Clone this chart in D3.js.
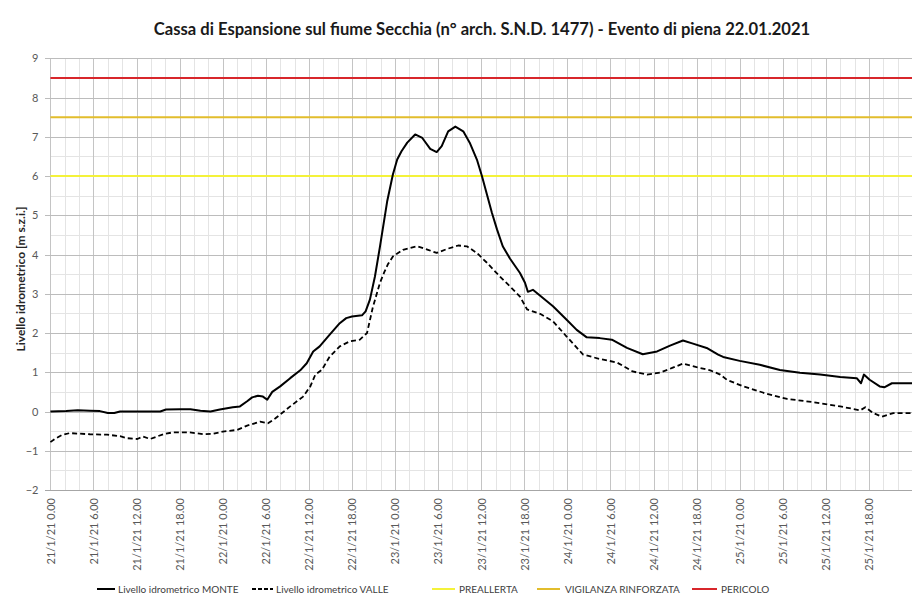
<!DOCTYPE html>
<html>
<head>
<meta charset="utf-8">
<script src="https://cdn.jsdelivr.net/npm/d3@7"></script>
<style>
  html, body { margin: 0; padding: 0; background: #fff; }
  svg { display: block; font-family: Lato, "Open Sans", sans-serif; }
</style>
</head>
<body>
<svg id="chart" width="917" height="601"></svg>
<script>
// Hydrometric levels at the Secchia flood expansion basin, 21-25 Jan 2021.
// Time is given in hours from 21/1/2021 00:00.
const monteHours = [0, 2.2, 3.8, 5.5, 6.9, 8, 8.9, 9.7, 12.5, 15.3, 16.1, 18.1, 19.5, 20.9, 22.3, 23.6, 25.4, 26.4, 27.4, 28.1, 28.9, 29.6, 30.2, 30.9, 32, 33.4, 34.8, 35.7, 36.6, 37.5, 38.9, 40.3, 41.2, 42, 43.4, 43.9, 44.5, 45.2, 45.9, 46.9, 47.7, 48.3, 48.9, 49.7, 50.8, 51.8, 52.9, 53.8, 54.5, 55.4, 56.4, 57.5, 58.4, 59.4, 60.1, 60.8, 61.5, 62.2, 63, 64, 65.4, 66.1, 66.5, 67.2, 68.6, 70, 71.9, 73.3, 74.7, 76.5, 78.2, 80.3, 82.5, 84.5, 86.3, 88.1, 89.5, 91.4, 93, 93.7, 96, 98.8, 101.6, 104.4, 107.2, 110, 112.3, 112.9, 113.3, 114.1, 115.5, 116.2, 117.2, 119.7, 120];
const monteLevel = [0.0, 0.01, 0.03, 0.02, 0.01, -0.04, -0.04, 0.0, 0.0, 0.0, 0.05, 0.06, 0.06, 0.02, 0.0, 0.05, 0.11, 0.13, 0.26, 0.36, 0.40, 0.38, 0.30, 0.50, 0.64, 0.85, 1.05, 1.23, 1.53, 1.66, 1.96, 2.25, 2.38, 2.42, 2.45, 2.55, 2.85, 3.44, 4.2, 5.35, 6.04, 6.42, 6.63, 6.85, 7.06, 6.97, 6.69, 6.61, 6.76, 7.14, 7.26, 7.14, 6.85, 6.42, 6.0, 5.53, 5.06, 4.64, 4.21, 3.9, 3.53, 3.28, 3.05, 3.1, 2.89, 2.68, 2.34, 2.08, 1.89, 1.87, 1.83, 1.62, 1.46, 1.53, 1.68, 1.81, 1.73, 1.62, 1.45, 1.39, 1.29, 1.19, 1.06, 0.99, 0.94, 0.88, 0.85, 0.72, 0.94, 0.81, 0.64, 0.62, 0.72, 0.72, 0.72];

const valleHours = [0, 0.6, 1.6, 2.7, 5.5, 7.9, 9.7, 10.7, 12.1, 12.9, 13.9, 15.7, 17.1, 19.4, 21.3, 22.6, 24, 26, 27.4, 29.2, 30.3, 31.3, 33.4, 35.2, 36.2, 36.9, 37.8, 38.9, 40.3, 41.7, 43.1, 44.1, 44.9, 45.9, 46.5, 47, 47.7, 49.1, 51.1, 52.6, 53.8, 55.2, 56.8, 58, 59.4, 60.8, 62.6, 64, 65.4, 66.4, 68.2, 70, 71.9, 74.2, 76.5, 78.9, 81.1, 83.1, 84.9, 86.6, 88.1, 90, 91.9, 93.3, 94.2, 96.5, 99.8, 102.6, 106.2, 110, 112.8, 113.5, 114.6, 115.8, 117.4, 119.7, 120];
const valleLevel = [-0.78, -0.7, -0.6, -0.55, -0.58, -0.59, -0.63, -0.68, -0.7, -0.64, -0.7, -0.58, -0.53, -0.53, -0.58, -0.57, -0.51, -0.47, -0.36, -0.26, -0.3, -0.18, 0.13, 0.38, 0.64, 0.94, 1.06, 1.4, 1.66, 1.79, 1.83, 2.0, 2.65, 3.28, 3.55, 3.75, 3.95, 4.12, 4.21, 4.12, 4.04, 4.14, 4.23, 4.21, 4.04, 3.79, 3.44, 3.19, 2.93, 2.6, 2.49, 2.3, 1.91, 1.45, 1.34, 1.25, 1.02, 0.94, 0.99, 1.11, 1.22, 1.13, 1.05, 0.94, 0.81, 0.64, 0.45, 0.32, 0.24, 0.13, 0.03, 0.11, -0.04, -0.13, -0.04, -0.04, -0.04];

// Alert thresholds [m s.z.i.]
const thresholdNames = ["PREALLERTA", "VIGILANZA RINFORZATA", "PERICOLO"];
const thresholdLevels = [6.0, 7.5, 8.5];
const thresholdColors = ["#f4f23a", "#e2bd2c", "#d8262b"];

const yTicks = [-2, -1, 0, 1, 2, 3, 4, 5, 6, 7, 8, 9];
const seriesNames = ["Livello idrometrico MONTE", "Livello idrometrico VALLE"];

const start = new Date(2021, 0, 21, 0, 0);
const end = new Date(2021, 0, 26, 0, 0);
const toDate = h => new Date(start.getTime() + h * 3600 * 1000);

const monte = monteHours.map((h, i) => ({ t: toDate(h), v: monteLevel[i] }));
const valle = valleHours.map((h, i) => ({ t: toDate(h), v: valleLevel[i] }));

const svg = d3.select("#chart");
const W = 917, H = 601;
const m = { left: 50.4, right: 5, top: 58.3, bottom: 111 };

const x = d3.scaleTime().domain([start, end]).range([m.left, W - m.right]);
const y = d3.scaleLinear().domain([-2, 9]).range([H - m.bottom, m.top]);

// Title
svg.append("text")
  .attr("x", 482).attr("y", 35)
  .attr("text-anchor", "middle")
  .attr("font-size", 16.6).attr("font-weight", "bold").attr("fill", "#1a1a1a")
  .text("Cassa di Espansione sul fiume Secchia (n° arch. S.N.D. 1477) - Evento di piena 22.01.2021");

const grid = svg.append("g").attr("shape-rendering", "crispEdges");

// Minor gridlines
grid.selectAll(".hminor").data(d3.range(-1.5, 9, 1))
  .join("line")
  .attr("x1", x(start)).attr("x2", x(end))
  .attr("y1", d => Math.round(y(d)) + 0.5).attr("y2", d => Math.round(y(d)) + 0.5)
  .attr("stroke", "#e4e4e4");

const minorTimes = d3.timeHour.every(2).range(start, end).filter(d => d.getHours() % 6 !== 0);
grid.selectAll(".vminor").data(minorTimes)
  .join("line")
  .attr("x1", d => Math.round(x(d)) + 0.5).attr("x2", d => Math.round(x(d)) + 0.5)
  .attr("y1", y(9)).attr("y2", y(-2))
  .attr("stroke", "#e4e4e4");

// Major gridlines
const majorTimes = d3.timeHour.every(6).range(start, end);
grid.selectAll(".vmajor").data(majorTimes)
  .join("line")
  .attr("x1", d => Math.round(x(d)) + 0.5).attr("x2", d => Math.round(x(d)) + 0.5)
  .attr("y1", y(9)).attr("y2", y(-2))
  .attr("stroke", "#c4c4c4");

grid.selectAll(".hmajor").data(yTicks.filter(d => d > -2))
  .join("line")
  .attr("x1", x(start) - 5).attr("x2", x(end))
  .attr("y1", d => Math.round(y(d)) + 0.5).attr("y2", d => Math.round(y(d)) + 0.5)
  .attr("stroke", "#bcbcbc");

// Category axis line at the bottom
grid.append("line")
  .attr("x1", x(start) - 5).attr("x2", x(end))
  .attr("y1", Math.round(y(-2)) + 0.5).attr("y2", Math.round(y(-2)) + 0.5)
  .attr("stroke", "#a6a6a6");

// Y axis tick labels
const yAxis = d3.axisLeft(y).tickValues(yTicks).tickSize(0).tickPadding(9).tickFormat(d3.format("d"));
const gy = svg.append("g").attr("transform", `translate(${x(start) - 3},0)`).call(yAxis);
gy.select(".domain").remove();
gy.selectAll("text").attr("font-size", 11).attr("fill", "#595959").attr("font-family", "Lato, 'Open Sans', sans-serif");

// Y axis title
svg.append("text")
  .attr("transform", "translate(21,279) rotate(-90)")
  .attr("text-anchor", "middle")
  .attr("dy", "0.35em")
  .attr("font-size", 12).attr("font-weight", "bold").attr("fill", "#262626")
  .text("Livello idrometrico [m s.z.i.]");

// X axis tick labels (rotated)
const fmt = d => `${d.getDate()}/${d.getMonth() + 1}/${String(d.getFullYear()).slice(2)} ${d.getHours()}.00`;
const xAxis = d3.axisBottom(x).tickValues(majorTimes).tickSize(0).tickFormat(fmt);
const gx = svg.append("g").attr("transform", `translate(0,${y(-2)})`).call(xAxis);
gx.select(".domain").remove();
gx.selectAll("text")
  .attr("font-size", 11).attr("fill", "#595959").attr("font-family", "Lato, 'Open Sans', sans-serif")
  .attr("text-anchor", "end")
  .attr("transform", "rotate(-90)")
  .attr("x", -8).attr("y", 0).attr("dy", "0.35em");

// Threshold lines
svg.append("g").selectAll("line").data(thresholdLevels)
  .join("line")
  .attr("x1", x(start)).attr("x2", x(end))
  .attr("y1", d => y(d)).attr("y2", d => y(d))
  .attr("stroke", (d, i) => thresholdColors[i])
  .attr("stroke-width", 2);

// Level series
const line = d3.line().x(d => x(d.t)).y(d => y(d.v));
svg.append("path").datum(valle)
  .attr("d", line).attr("fill", "none")
  .attr("stroke", "#000").attr("stroke-width", 1.8)
  .attr("stroke-dasharray", "5,3").attr("stroke-linejoin", "round");
svg.append("path").datum(monte)
  .attr("d", line).attr("fill", "none")
  .attr("stroke", "#000").attr("stroke-width", 2).attr("stroke-linejoin", "round");

// Legend
const legendItems = [
  { name: seriesNames[0], color: "#000", dash: null, x1: 97, x2: 115, tx: 118 },
  { name: seriesNames[1], color: "#000", dash: "4,2", x1: 252, x2: 273, tx: 276 },
  { name: thresholdNames[0], color: thresholdColors[0], dash: null, x1: 432, x2: 455, tx: 459 },
  { name: thresholdNames[1], color: thresholdColors[1], dash: null, x1: 537, x2: 560, tx: 565 },
  { name: thresholdNames[2], color: thresholdColors[2], dash: null, x1: 692, x2: 717, tx: 721 }
];
const lg = svg.append("g");
const ly = 589;
lg.selectAll("line").data(legendItems).join("line")
  .attr("x1", d => d.x1).attr("x2", d => d.x2)
  .attr("y1", ly).attr("y2", ly)
  .attr("stroke", d => d.color).attr("stroke-width", 2)
  .attr("stroke-dasharray", d => d.dash);
lg.selectAll("text").data(legendItems).join("text")
  .attr("x", d => d.tx).attr("y", ly).attr("dy", "0.35em")
  .attr("font-size", 10).attr("fill", "#404040")
  .text(d => d.name);
</script>
</body>
</html>
